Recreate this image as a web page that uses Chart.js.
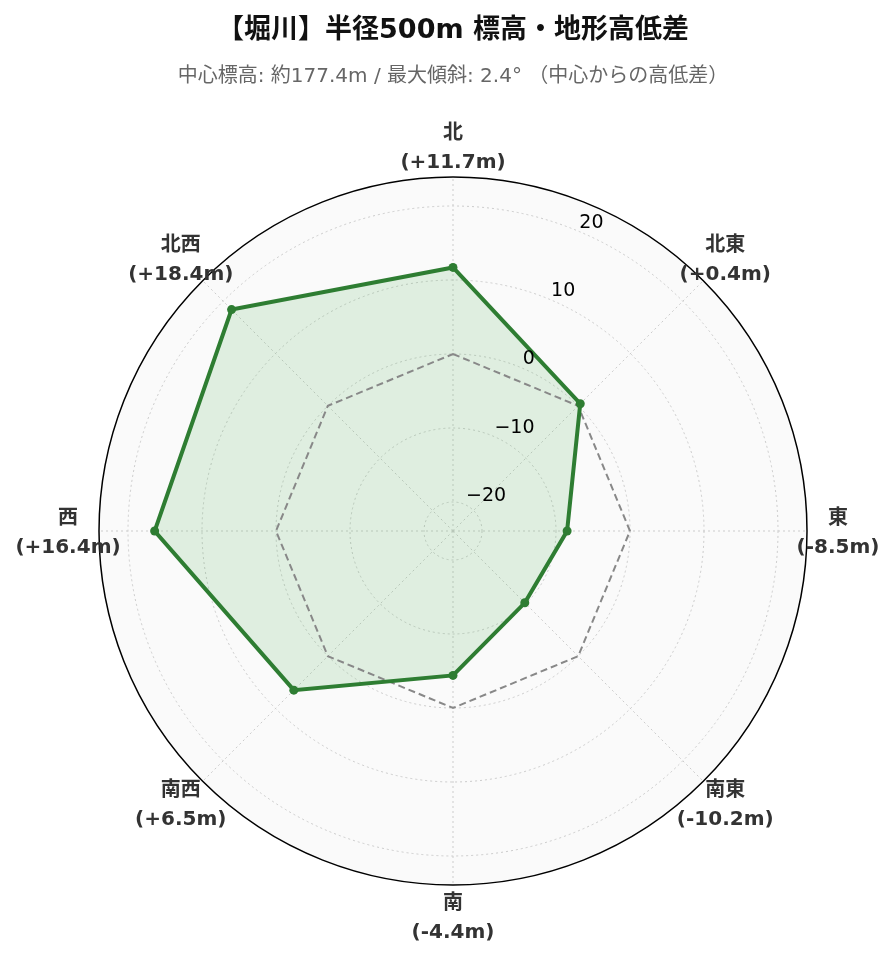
<!DOCTYPE html>
<html lang="ja">
<head>
<meta charset="utf-8">
<title>堀川 標高・地形高低差</title>
<script src="https://cdn.jsdelivr.net/npm/chart.js@4.4.1/dist/chart.umd.min.js"></script>
<style>
  html, body { margin: 0; padding: 0; background: #ffffff; }
  #wrap { width: 896px; height: 962px; }
</style>
</head>
<body>
<div id="wrap"><canvas id="elevChart" width="896" height="962"></canvas></div>
<script>
// 方位ごとの高低差 (中心からの差, m)
const directions = ['北', '北東', '東', '南東', '南', '南西', '西', '北西'];
const elevationDiff = [11.7, 0.4, -8.5, -10.2, -4.4, 6.5, 16.4, 18.4];
const baseline = [0, 0, 0, 0, 0, 0, 0, 0];
const radialLimit = 23.92;
const tickValues = [-20, -10, 0, 10, 20];

const FONT = "'DejaVu Sans', 'Noto Sans CJK JP', sans-serif";

function fmtDiff(v) {
    return '(' + (v > 0 ? '+' : '') + v.toFixed(1) + 'm)';
}

// 円形の背景と外周
const polarFrame = {
    id: 'polarFrame',
    beforeDraw(chart) {
        const s = chart.scales.r;
        const ctx = chart.ctx;
        ctx.save();
        ctx.beginPath();
        ctx.arc(s.xCenter, s.yCenter, s.drawingArea, 0, Math.PI * 2);
        ctx.fillStyle = '#fafafa';
        ctx.fill();
        ctx.restore();
    },
    afterDraw(chart) {
        const s = chart.scales.r;
        const ctx = chart.ctx;
        ctx.save();
        ctx.beginPath();
        ctx.arc(s.xCenter, s.yCenter, s.drawingArea, 0, Math.PI * 2);
        ctx.strokeStyle = '#000000';
        ctx.lineWidth = 1.5;
        ctx.stroke();

        // 目盛ラベル (北と北東の間)
        ctx.font = '19px ' + FONT;
        ctx.fillStyle = '#000000';
        ctx.textAlign = 'left';
        ctx.textBaseline = 'alphabetic';
        tickValues.forEach(v => {
            const p = s.getPointPosition(0, s.getDistanceFromCenterForValue(v), Math.PI / 8);
            ctx.fillText(String(v).replace('-', '\u2212'), p.x + 2, p.y - 3);
        });

        // 方位ラベル
        ctx.font = 'bold 20px ' + FONT;
        ctx.fillStyle = '#333333';
        ctx.textAlign = 'center';
        ctx.textBaseline = 'middle';
        directions.forEach((d, i) => {
            const p = s.getPointPosition(i, s.drawingArea + 31);
            ctx.fillText(d, p.x, p.y - 12.5);
            ctx.fillText(fmtDiff(elevationDiff[i]), p.x, p.y + 16.5);
        });
        ctx.restore();
    }
};

new Chart(document.getElementById('elevChart'), {
    type: 'radar',
    data: {
        labels: directions,
        datasets: [
            {
                label: '高低差',
                data: elevationDiff,
                borderColor: '#2e7d32',
                backgroundColor: 'rgba(76, 175, 80, 0.15)',
                borderWidth: 4,
                fill: 'start',
                pointRadius: 4.5,
                pointBackgroundColor: '#2e7d32',
                pointBorderColor: '#2e7d32',
                pointBorderWidth: 0,
                order: 0
            },
            {
                label: '中心標高',
                data: baseline,
                borderColor: '#888888',
                borderWidth: 2,
                borderDash: [7, 4],
                fill: false,
                pointRadius: 0,
                order: 1
            }
        ]
    },
    options: {
        responsive: false,
        devicePixelRatio: 1,
        animation: false,
        layout: {
            padding: { left: 98, right: 88, top: 0, bottom: 76 }
        },
        elements: { line: { tension: 0 } },
        plugins: {
            legend: { display: false },
            tooltip: { enabled: false },
            filler: { drawTime: 'beforeDatasetsDraw' },
            title: {
                display: true,
                text: '【堀川】半径500m 標高・地形高低差',
                color: '#111111',
                font: { family: FONT, size: 27, weight: 'bold' },
                padding: { top: 15, bottom: 0 }
            },
            subtitle: {
                display: true,
                text: '中心標高: 約177.4m / 最大傾斜: 2.4° （中心からの高低差）',
                color: '#666666',
                font: { family: FONT, size: 20 },
                padding: { top: 17, bottom: 88 }
            }
        },
        scales: {
            r: {
                min: -radialLimit,
                max: radialLimit,
                startAngle: 0,
                ticks: { display: false, stepSize: 10, includeBounds: false },
                grid: { circular: true, color: '#cccccc', lineWidth: 1 },
                border: { dash: [2, 3] },
                angleLines: { color: '#cccccc', lineWidth: 1, borderDash: [2, 3] },
                pointLabels: { display: false }
            }
        }
    },
    plugins: [polarFrame]
});
</script>
</body>
</html>
